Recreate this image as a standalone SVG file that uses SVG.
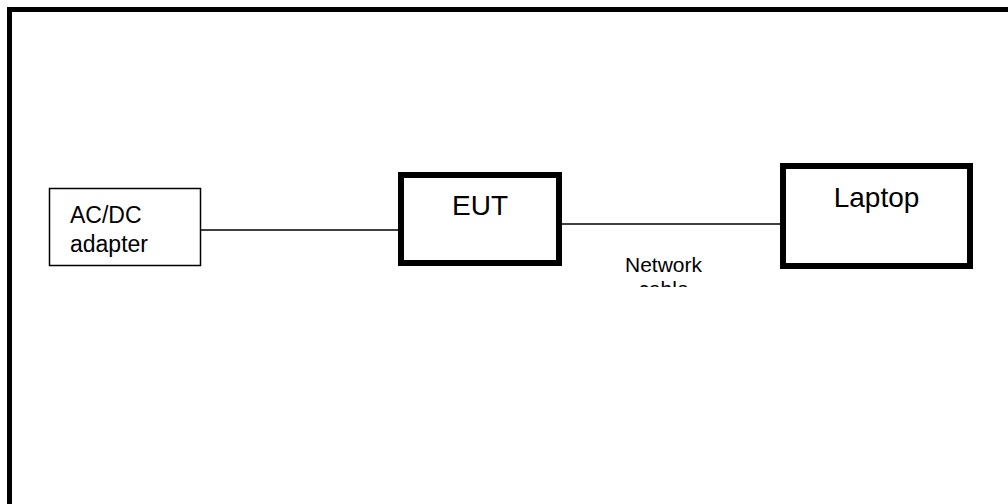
<svg xmlns="http://www.w3.org/2000/svg" width="1008" height="504" viewBox="0 0 1008 504">
<style>
.t{font-family:"Liberation Sans",Arial,sans-serif;fill:#000}
.thick{fill:#fff;stroke:#000;stroke-width:6}
.thin{fill:#fff;stroke:#000;stroke-width:1.5}
.conn{stroke:#000;stroke-width:1.5;fill:none}
</style>
<defs>
<clipPath id="clipNet"><rect x="590" y="240" width="150" height="47"/></clipPath>
</defs>
<rect x="0" y="0" width="1008" height="504" fill="#fff"/>
<rect x="9.5" y="9.5" width="1010" height="510" fill="none" stroke="#000" stroke-width="5"/>
<g id="connectors">
<line class="conn" x1="200" y1="230" x2="398" y2="230"/>
<line class="conn" x1="562" y1="224" x2="780" y2="224"/>
</g>
<g id="adapter">
<rect class="thin" x="49.5" y="188.5" width="151" height="77"/>
<text class="t" x="70" y="223" font-size="23">AC/DC</text>
<text class="t" x="70" y="252" font-size="23">adapter</text>
</g>
<g id="eut">
<rect class="thick" x="401" y="175" width="158" height="88"/>
<text class="t" x="480" y="215" font-size="28" text-anchor="middle">EUT</text>
</g>
<g id="laptop">
<rect class="thick" x="783" y="166" width="187" height="100"/>
<text class="t" x="876.5" y="207" font-size="28" text-anchor="middle">Laptop</text>
</g>
<g id="network-label" clip-path="url(#clipNet)">
<text class="t" x="663.5" y="272" font-size="21" text-anchor="middle">Network</text>
<text class="t" x="663.5" y="296" font-size="21" text-anchor="middle">cable</text>
</g>
</svg>
